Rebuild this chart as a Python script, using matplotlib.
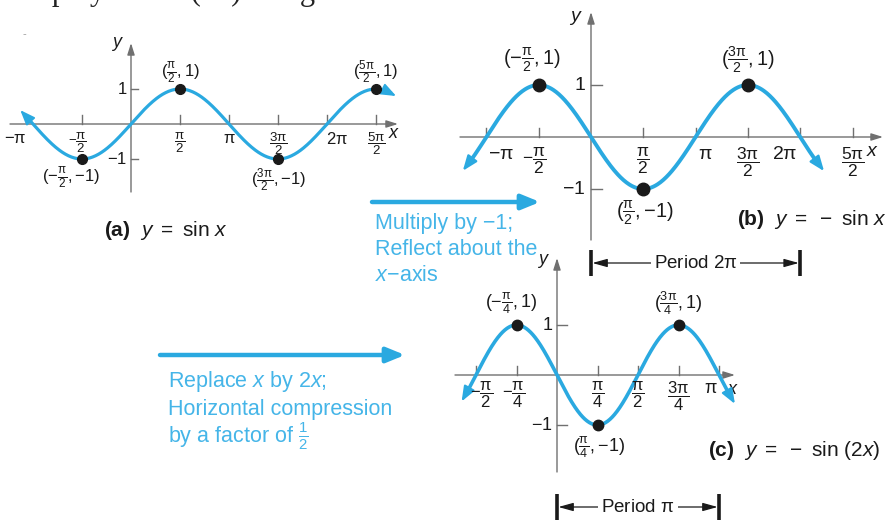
import numpy as np
import matplotlib
matplotlib.use('Agg')
import matplotlib.pyplot as plt
from matplotlib import font_manager
from matplotlib.transforms import offset_copy

W, H = 891, 520
PI = np.pi

# pick a narrow sans if it is there
have = {f.name for f in font_manager.fontManager.ttflist}
SANS = next(n for n in ['Liberation Sans Narrow', 'Liberation Sans', 'DejaVu Sans'] if n in have)
plt.rcParams['font.family'] = [SANS, 'DejaVu Sans']
plt.rcParams['mathtext.fontset'] = 'custom'
plt.rcParams['mathtext.rm'] = SANS
plt.rcParams['mathtext.it'] = SANS + ':italic'
plt.rcParams['mathtext.bf'] = SANS + ':bold'
plt.rcParams['mathtext.sf'] = SANS
plt.rcParams['mathtext.default'] = 'rm'

BLUE = '#2aa9e0'
TXTBLUE = '#45b5e8'
AXC = '#707070'
INK = '#1a1a1a'

# ---- data ----
# (a) y = sin x
a_ticks = [-PI/2, PI/2, PI, 3*PI/2, 2*PI, 5*PI/2]
a_lab_x = [-PI, -PI/2, PI/2, PI, 3*PI/2, 2*PI, 5*PI/2]
a_labels = [r'$-\pi$', r'$-\dfrac{\pi}{2}$', r'$\dfrac{\pi}{2}$', r'$\pi$',
            r'$\dfrac{3\pi}{2}$', r'$2\pi$', r'$\dfrac{5\pi}{2}$']
a_pts_x = [-PI/2, PI/2, 3*PI/2, 5*PI/2]
a_pts_y = [-1, 1, -1, 1]
a_pts_lab = [r'$(-\frac{\pi}{2}, {-}1)$', r'$(\frac{\pi}{2}, 1)$',
             r'$(\frac{3\pi}{2}, {-}1)$', r'$(\frac{5\pi}{2}, 1)$']

# (b) y = -sin x
b_ticks = [-PI, -PI/2, PI/2, PI, 3*PI/2, 2*PI, 5*PI/2]
b_labels = [r'$-\pi$', r'$-\dfrac{\pi}{2}$', r'$\dfrac{\pi}{2}$', r'$\pi$',
            r'$\dfrac{3\pi}{2}$', r'$2\pi$', r'$\dfrac{5\pi}{2}$']
b_pts_x = [-PI/2, PI/2, 3*PI/2]
b_pts_y = [1, -1, 1]
b_pts_lab = [r'$(-\frac{\pi}{2}, 1)$', r'$(\frac{\pi}{2}, {-}1)$', r'$(\frac{3\pi}{2}, 1)$']

# (c) y = -sin(2x)
c_ticks = [-PI/2, -PI/4, PI/4, PI/2, 3*PI/4, PI]
c_labels = [r'$-\dfrac{\pi}{2}$', r'$-\dfrac{\pi}{4}$', r'$\dfrac{\pi}{4}$', r'$\dfrac{\pi}{2}$',
            r'$\dfrac{3\pi}{4}$', r'$\pi$']
c_pts_x = [-PI/4, PI/4, 3*PI/4]
c_pts_y = [1, -1, 1]
c_pts_lab = [r'$(-\frac{\pi}{4}, 1)$', r'$(\frac{\pi}{4}, {-}1)$', r'$(\frac{3\pi}{4}, 1)$']

yticks = [-1, 1]
ylabels = [r'$-1$', '1']

fig = plt.figure(figsize=(W / 100, H / 100), dpi=100)
fig.patch.set_facecolor('white')

ov = fig.add_axes([0, 0, 1, 1])
ov.set_xlim(0, W)
ov.set_ylim(H, 0)
ov.axis('off')


def panel(left, top, right, bottom, ox, oy, sx, sy):
    ax = fig.add_axes([left / W, 1 - bottom / H, (right - left) / W, (bottom - top) / H])
    ax.set_xlim((left - ox) / sx, (right - ox) / sx)
    ax.set_ylim((oy - bottom) / sy, (oy - top) / sy)
    ax.axis('off')
    ax.sx, ax.sy, ax.oy = sx, sy, oy
    return ax


def off(ax, dx, dy):
    # shift in pixels, dy positive = down
    return offset_copy(ax.transData, fig=fig, x=dx, y=-dy, units='dots')


def frame(ax, ticks, tlen, ytlen):
    x0, x1 = ax.get_xlim()
    y0, y1 = ax.get_ylim()
    kw = dict(arrowstyle='-|>,head_length=0.7,head_width=0.22', color=AXC, lw=1.0,
              shrinkA=0, shrinkB=0)
    ax.annotate('', xy=(x1, 0), xytext=(x0, 0), arrowprops=kw, annotation_clip=False)
    ax.annotate('', xy=(0, y1), xytext=(0, y0), arrowprops=kw, annotation_clip=False)
    for t in ticks:
        ax.plot([t, t], [0, tlen / ax.sy], color=AXC, lw=1.0, clip_on=False)
    for t in yticks:
        ax.plot([0, ytlen / ax.sx], [t, t], color=AXC, lw=1.0, clip_on=False)


def curve(ax, f, lo, hi, lw):
    x = np.linspace(lo, hi, 500)
    y = f(x)
    ax.plot(x[6:-6], y[6:-6], color=BLUE, lw=lw, solid_capstyle='butt', zorder=3)
    ap = dict(arrowstyle='-|>,head_length=0.9,head_width=0.35', color=BLUE, lw=lw * 0.6,
              shrinkA=0, shrinkB=0, mutation_scale=10)
    ax.annotate('', xy=(x[0], y[0]), xytext=(x[14], y[14]), arrowprops=ap, annotation_clip=False)
    ax.annotate('', xy=(x[-1], y[-1]), xytext=(x[-15], y[-15]), arrowprops=ap, annotation_clip=False)


def points(ax, xs, ys, labs, offs, ms, fs):
    ax.plot(xs, ys, 'o', color=INK, ms=ms, zorder=5, clip_on=False)
    for x, y, s, (dx, dy) in zip(xs, ys, labs, offs):
        ax.text(x, y, s, transform=off(ax, dx, dy), ha='center', va='center',
                fontsize=fs, color=INK)


def xlabels(ax, xs, labs, dxs, gap, fs_frac, fs_plain):
    for x, s, dx in zip(xs, labs, dxs):
        fs = fs_frac if 'frac' in s else fs_plain
        ax.text(x, 0, s, transform=off(ax, dx, gap), ha='center', va='top',
                fontsize=fs, color=INK)


def ylabs(ax, dx, fs):
    for t, s in zip(yticks, ylabels):
        ax.text(0, t, s, transform=off(ax, dx, 0), ha='right', va='center',
                fontsize=fs, color=INK)


def period(ax, p, py, text):
    yb = (ax.oy - py) / ax.sy
    h = 13 / ax.sy
    for xb in (0, p):
        ax.plot([xb, xb], [yb - h, yb + h], color=INK, lw=2.6, clip_on=False,
                solid_capstyle='butt')
    kw = dict(arrowstyle='-|>,head_length=0.9,head_width=0.25', color=INK, lw=0.9,
              shrinkA=0, shrinkB=1)
    ax.annotate('', xy=(0, yb), xytext=(p / 2, yb), arrowprops=kw, annotation_clip=False)
    ax.annotate('', xy=(p, yb), xytext=(p / 2, yb), arrowprops=kw, annotation_clip=False)
    ax.text(p / 2, yb, text, ha='center', va='center', fontsize=13.5, color=INK,
            bbox=dict(facecolor='white', edgecolor='none', pad=2), zorder=6)


# ---- panel (a) ----
axa = panel(10, 43, 398, 192, 131, 124, 49 / (PI / 2), 35)
frame(axa, a_ticks, 9, 7)
curve(axa, np.sin, -3.55, 8.5, 2.3)
xlabels(axa, a_lab_x, a_labels, [-18, -5, 0, 0, 0, 10, 0], 7, 9.5, 12)
ylabs(axa, -4, 12)
points(axa, a_pts_x, a_pts_y, a_pts_lab, [(-11, 19), (0, -16), (0, 21), (0, -17)], 7, 12)
ov.text(394, 134, r'$\mathit{x}$', ha='center', va='center', fontsize=13, color=INK)
ov.text(117, 44, r'$\mathit{y}$', ha='center', va='center', fontsize=13, color=INK)
ov.text(104, 236, r'$\mathbf{(a)}\ \ \mathit{y}\ =\ \mathrm{sin}\ \mathit{x}$',
        ha='left', va='baseline', fontsize=15, color=INK)

# ---- panel (b) ----
axb = panel(460, 12, 883, 240, 591, 137, 52.3 / (PI / 2), 52)
frame(axb, b_ticks, 9, 11)
curve(axb, lambda x: -np.sin(x), -3.85, 7.0, 2.8)
xlabels(axb, b_ticks, b_labels, [15, -5, 0, 10, 0, -15, 0], 9, 12.5, 14)
ylabs(axb, -6, 14)
points(axb, b_pts_x, b_pts_y, b_pts_lab, [(-7, -25), (2, 24), (0, -25)], 9, 14.5)
ov.text(873, 152, r'$\mathit{x}$', ha='center', va='center', fontsize=14, color=INK)
ov.text(576, 18, r'$\mathit{y}$', ha='center', va='center', fontsize=14, color=INK)
ov.text(737, 225, r'$\mathbf{(b)}\ \ \mathit{y}\ =\ -\ \mathrm{sin}\ \mathit{x}$',
        ha='left', va='baseline', fontsize=15, color=INK)
period(axb, 2 * PI, 263, r'Period $2\pi$')

# ---- panel (c) ----
axc = panel(455, 258, 735, 472, 557, 375, 40.5 / (PI / 4), 50)
frame(axc, c_ticks, 9, 10)
curve(axc, lambda x: -np.sin(2 * x), -1.85, 3.45, 2.6)
xlabels(axc, c_ticks, c_labels, [6, -3, 0, 0, 0, -8], 5, 12, 13)
ylabs(axc, -4, 13)
points(axc, c_pts_x, c_pts_y, c_pts_lab, [(-5, -22), (2, 22), (0, -22)], 7.5, 13)
ov.text(733, 389, r'$\mathit{x}$', ha='center', va='center', fontsize=13, color=INK)
ov.text(543, 261, r'$\mathit{y}$', ha='center', va='center', fontsize=13, color=INK)
ov.text(708, 456, r'$\mathbf{(c)}\ \ \mathit{y}\ =\ -\ \mathrm{sin}\ (2\mathit{x})$',
        ha='left', va='baseline', fontsize=15, color=INK)
period(axc, PI, 507, r'Period $\pi$')

# ---- transformation arrows ----
big = dict(arrowstyle='-|>,head_length=1.1,head_width=0.45', color=BLUE, lw=3.2,
           shrinkA=0, shrinkB=0, mutation_scale=10)
ov.annotate('', xy=(540, 202), xytext=(372, 202), arrowprops=big)
ov.annotate('', xy=(405, 355), xytext=(160, 355), arrowprops=big)

for i, s in enumerate(['Multiply by \u22121;', 'Reflect about the', r'$\mathit{x}$' + '\u2212axis']):
    ov.text(375, 229 + 26 * i, s, ha='left', va='baseline', fontsize=15.5, color=TXTBLUE)
for i, s in enumerate([r'Replace $\mathit{x}$ by 2$\mathit{x}$;', 'Horizontal compression',
                       r'by a factor of $\frac{1}{2}$']):
    ov.text(168, 387 + 28 * i, s, ha='left', va='baseline', fontsize=15.5, color=TXTBLUE)

# cut-off heading at the very top
ov.text(6, 0, 'Graph y = \u2212sin(2x) using transformations.', ha='left', va='baseline',
        fontsize=22, family='Liberation Serif', color='#222')
ov.text(24, 34, '-', ha='center', va='center', fontsize=8, color='#999')

fig.savefig('out.png', dpi=100)
